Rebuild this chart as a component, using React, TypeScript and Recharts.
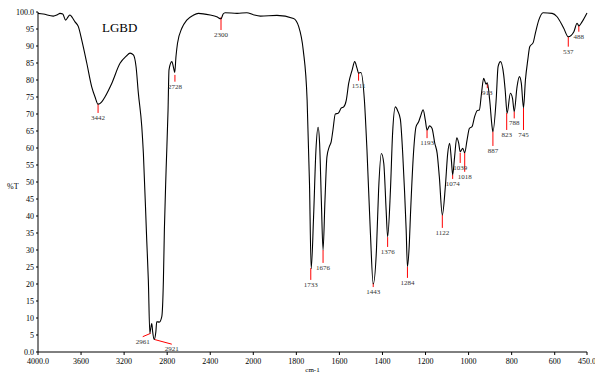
import { ComposedChart, Line, XAxis, YAxis, ReferenceLine, ReferenceDot } from "recharts";

const FONT = "'Liberation Serif', 'Times New Roman', serif";

// wavenumbers (cm-1) and transmittance (%T)
const WAVENUMBERS = [
  4000, 3951, 3858, 3820, 3796, 3770, 3743, 3720, 3703, 3680, 3656, 3625, 3594, 3547, 3501, 3470, 3442,
  3410, 3377, 3315, 3238, 3180, 3145, 3114, 3089, 3068, 3036, 3021, 2990, 2975, 2961, 2950, 2943, 2935,
  2921, 2905, 2897, 2873, 2850, 2835, 2826, 2810, 2792, 2783, 2757, 2740, 2730, 2718, 2704, 2664, 2618,
  2560, 2510, 2401, 2340, 2300, 2280, 2262, 2150, 2060, 2000, 1967, 1890, 1813, 1789, 1768, 1750, 1739,
  1731, 1720, 1709, 1699, 1692, 1684, 1676, 1667, 1658, 1647, 1638, 1630, 1619, 1606, 1592, 1580, 1568,
  1557, 1541, 1529, 1518, 1511, 1500, 1484, 1472, 1456, 1443, 1428, 1418, 1405, 1394, 1383, 1376, 1363,
  1353, 1340, 1329, 1317, 1306, 1297, 1290, 1284, 1276, 1269, 1256, 1244, 1232, 1224, 1211, 1201, 1193,
  1181, 1170, 1157, 1146, 1136, 1122, 1108, 1097, 1088, 1080, 1074, 1065, 1055, 1046, 1039, 1027, 1018,
  1007, 996, 984, 972, 960, 950, 940, 930, 919, 913, 902, 891, 887, 872, 863, 852, 837, 830, 821, 806,
  796, 788, 775, 764, 755, 745, 736, 725, 716, 700, 690, 674, 654, 612, 589, 558, 537, 511, 496, 488,
  473, 450,
];
const TRANSMITTANCE = [
  99.6, 99.4, 98.8, 99.2, 99.6, 99.4, 97.6, 98.6, 99.1, 98.3, 97.1, 95.7, 91.8, 85.0, 78.0, 75.0, 72.9,
  73.5, 75.1, 79.0, 84.9, 87.0, 87.9, 87.4, 83.9, 76.2, 66.3, 58.4, 32.9, 21.2, 5.5, 7.5, 8.4, 6.0,
  3.7, 6.0, 8.9, 8.8, 10.4, 21.2, 35.9, 53.5, 71.0, 83.0, 85.4, 83.5, 82.2, 87.0, 90.8, 95.2, 97.6,
  99.0, 99.6, 99.1, 98.6, 98.0, 99.4, 99.8, 99.6, 99.8, 99.2, 98.8, 99.0, 98.1, 95.7, 88.8, 74.1, 49.7,
  24.5, 39.8, 59.4, 66.1, 61.4, 44.7, 30.0, 44.7, 57.4, 60.4, 61.9, 65.3, 70.0, 70.2, 71.7, 72.1, 74.1,
  79.0, 82.9, 85.4, 83.4, 82.0, 82.2, 74.1, 59.4, 34.9, 20.0, 30.0, 47.6, 58.4, 55.5, 41.8, 33.9, 47.6,
  64.3, 72.1, 70.9, 68.5, 58.4, 46.7, 36.0, 25.1, 31.0, 41.8, 58.4, 66.3, 67.7, 69.2, 71.2, 68.2, 65.3,
  66.5, 65.8, 61.4, 58.4, 51.6, 40.3, 48.6, 58.4, 61.4, 56.5, 52.1, 57.4, 63.0, 61.4, 58.9, 59.9, 58.6,
  62.4, 65.8, 66.3, 69.2, 71.0, 71.2, 76.1, 80.5, 78.8, 79.2, 74.1, 66.3, 64.8, 74.1, 83.9, 85.4, 81.5, 77.0, 70.2, 76.1,
  74.6, 70.7, 78.0, 81.0, 79.0, 71.8, 80.0, 85.9, 89.8, 91.0, 93.7, 97.6, 99.8, 99.6, 98.6, 95.2, 92.7, 94.2, 96.7, 95.9,
  97.1, 99.7,
];

// peak picks: red marker from (wn, top) to (end wn, end), label under the end
const PEAK_LABELS = ["3442", "2961", "2921", "2728", "2300", "1733", "1676", "1511", "1443", "1376", "1284", "1193", "1122", "1074", "1039", "1018", "913", "887", "823", "788", "745", "537", "488"];
const PEAK_WN = [3442, 2953, 2921, 2728, 2300, 1733, 1676, 1511, 1443, 1376, 1284, 1193, 1122, 1074, 1039, 1018, 913, 887, 823, 788, 745, 537, 488];
const PEAK_TOP = [72.9, 5.5, 3.7, 81.5, 98.5, 24.7, 30.0, 82.1, 20.3, 33.8, 25.1, 65.3, 40.3, 52.1, 58.6, 58.6, 78.8, 64.8, 70.3, 70.7, 71.8, 92.7, 95.9];
const PEAK_END_WN = [3442, 3027, 2757, 2728, 2300, 1733, 1676, 1511, 1443, 1376, 1284, 1193, 1122, 1074, 1039, 1018, 913, 887, 823, 788, 745, 537, 488];
const PEAK_END = [70.3, 4.5, 2.3, 79.5, 94.7, 21.2, 26.2, 79.8, 19.1, 30.9, 21.8, 62.9, 36.5, 50.9, 55.6, 53.0, 77.6, 60.6, 65.3, 68.7, 65.3, 89.8, 94.2];

const X_TICKS = [4000, 3600, 3200, 2800, 2400, 2000, 1800, 1600, 1400, 1200, 1000, 800, 600, 450];
const Y_TICKS = [0, 5, 10, 15, 20, 25, 30, 35, 40, 45, 50, 55, 60, 65, 70, 75, 80, 85, 90, 95, 100];

// the instrument doubles the scale below 2000 cm-1
const toX = (wn: number) => (wn >= 2000 ? (4000 - wn) / 2 : 1000 + (2000 - wn));
const fromX = (x: number) => (x <= 1000 ? 4000 - 2 * x : 2000 - (x - 1000));

const data = WAVENUMBERS.map((wn, i) => ({ x: toX(wn), t: TRANSMITTANCE[i] }));

export default function App() {
  return (
    <div style={{ position: "absolute", left: 0, top: 0, width: 595, height: 376, background: "#fff" }}>
      <ComposedChart width={595} height={376} data={data} margin={{ top: 12, right: 8, bottom: 0, left: 0 }}>
        <XAxis
          dataKey="x"
          type="number"
          domain={[0, 2550]}
          ticks={X_TICKS.map(toX)}
          tickFormatter={(v: number) => {
            const wn = Math.round(fromX(v));
            return wn === 4000 || wn === 450 ? wn.toFixed(1) : String(wn);
          }}
          interval={0}
          height={24}
          tickSize={3}
          tickMargin={3}
          stroke="#000"
          tick={{ fontSize: 8, fill: "#000", fontFamily: FONT }}
          label={{ value: "cm-1", position: "insideBottom", offset: 4, fontSize: 7, fill: "#000", fontFamily: FONT }}
        />
        <YAxis
          type="number"
          domain={[0, 100]}
          ticks={Y_TICKS}
          interval={0}
          width={38}
          tickSize={2}
          tickMargin={2}
          stroke="#000"
          tickFormatter={(v: number) => (v === 0 || v === 100 ? v.toFixed(1) : String(v))}
          tick={{ fontSize: 8, fill: "#000", fontFamily: FONT }}
          label={{ value: "%T", position: "insideLeft", offset: 7, dy: 4, fontSize: 8, fill: "#000", fontFamily: FONT }}
        />
        {PEAK_LABELS.map((label, i) => (
          <ReferenceLine
            key={`pl-${label}`}
            segment={[
              { x: toX(PEAK_WN[i]), y: PEAK_TOP[i] },
              { x: toX(PEAK_END_WN[i]), y: PEAK_END[i] },
            ]}
            stroke="#ff0000"
            strokeWidth={1}
          />
        ))}
        <Line
          type="monotone"
          dataKey="t"
          stroke="#000"
          strokeWidth={1.1}
          dot={false}
          isAnimationActive={false}
        />
        {PEAK_LABELS.map((label, i) => (
          <ReferenceDot
            key={`pd-${label}`}
            x={toX(PEAK_END_WN[i])}
            y={PEAK_END[i]}
            r={0}
            fill="none"
            stroke="none"
            label={{ value: label, position: "bottom", offset: 2, fontSize: 7, fill: "#333", fontFamily: FONT }}
          />
        ))}
      </ComposedChart>
      <div
        style={{
          position: "absolute",
          left: 102,
          top: 21,
          fontFamily: FONT,
          fontSize: 13,
          lineHeight: "13px",
          color: "#000",
        }}
      >
        LGBD
      </div>
    </div>
  );
}
